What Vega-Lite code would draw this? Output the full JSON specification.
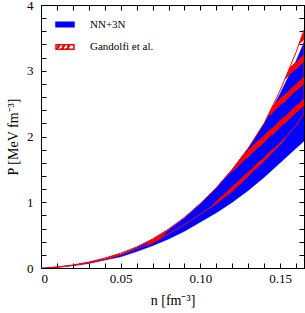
{
  "$schema": "https://vega.github.io/schema/vega-lite/v6.json",
  "width": 263,
  "height": 263,
  "autosize": {"type": "none"},
  "padding": {"left": 41, "top": 5, "right": 1, "bottom": 45},
  "config": {
    "view": {"stroke": "black", "strokeWidth": 1},
    "font": "Liberation Serif",
    "axis": {
      "grid": false,
      "domainColor": "black",
      "tickColor": "black",
      "labelColor": "black",
      "titleColor": "black",
      "labelFont": "Liberation Serif",
      "titleFont": "Liberation Serif",
      "labelFontSize": 13,
      "titleFontSize": 14,
      "titleFontWeight": "normal",
      "tickSize": -5,
      "tickWidth": 1
    },
    "legend": {
      "orient": "none",
      "title": null,
      "padding": 0,
      "symbolType": "M-1.8,-0.45H1.8V0.45H-1.8Z",
      "symbolSize": 100,
      "symbolStrokeWidth": 1.5,
      "labelFont": "Liberation Serif",
      "labelFontSize": 11,
      "labelColor": "black",
      "labelOffset": 19
    }
  },
  "datasets": {
    "nn3n": [
      {"n": 0.0, "lower": 0.0, "upper": 0.0},
      {"n": 0.01, "lower": 0.01, "upper": 0.012},
      {"n": 0.02, "lower": 0.035, "upper": 0.04},
      {"n": 0.03, "lower": 0.07, "upper": 0.085},
      {"n": 0.04, "lower": 0.12, "upper": 0.14},
      {"n": 0.05, "lower": 0.17, "upper": 0.21},
      {"n": 0.06, "lower": 0.25, "upper": 0.31},
      {"n": 0.07, "lower": 0.34, "upper": 0.43},
      {"n": 0.08, "lower": 0.44, "upper": 0.58},
      {"n": 0.09, "lower": 0.56, "upper": 0.76},
      {"n": 0.1, "lower": 0.7, "upper": 0.98},
      {"n": 0.11, "lower": 0.84, "upper": 1.22},
      {"n": 0.12, "lower": 1.0, "upper": 1.5},
      {"n": 0.13, "lower": 1.18, "upper": 1.82},
      {"n": 0.14, "lower": 1.38, "upper": 2.2},
      {"n": 0.15, "lower": 1.6, "upper": 2.65},
      {"n": 0.16, "lower": 1.82, "upper": 3.15},
      {"n": 0.165, "lower": 1.93, "upper": 3.43}
    ],
    "gandolfi": [
      {"n": 0.003, "lower": 0.0, "upper": 0.0},
      {"n": 0.01, "lower": 0.012, "upper": 0.015},
      {"n": 0.02, "lower": 0.04, "upper": 0.045},
      {"n": 0.03, "lower": 0.08, "upper": 0.09},
      {"n": 0.04, "lower": 0.13, "upper": 0.15},
      {"n": 0.05, "lower": 0.2, "upper": 0.225},
      {"n": 0.06, "lower": 0.29, "upper": 0.32},
      {"n": 0.07, "lower": 0.38, "upper": 0.44},
      {"n": 0.08, "lower": 0.52, "upper": 0.59},
      {"n": 0.09, "lower": 0.66, "upper": 0.77},
      {"n": 0.1, "lower": 0.82, "upper": 0.98},
      {"n": 0.11, "lower": 0.98, "upper": 1.22},
      {"n": 0.12, "lower": 1.17, "upper": 1.5},
      {"n": 0.13, "lower": 1.4, "upper": 1.82},
      {"n": 0.14, "lower": 1.63, "upper": 2.2},
      {"n": 0.15, "lower": 1.88, "upper": 2.7},
      {"n": 0.16, "lower": 2.17, "upper": 3.28},
      {"n": 0.165, "lower": 2.35, "upper": 3.62}
    ]
  },
  "layer": [
    {
      "data": {"name": "nn3n"},
      "mark": {"type": "area", "fill": "#0000ff", "strokeWidth": 0.5, "clip": true},
      "encoding": {
        "x": {
          "field": "n", "type": "quantitative",
          "scale": {"domain": [0, 0.165], "nice": false, "zero": false},
          "axis": {
            "orient": "bottom",
            "values": [0, 0.01, 0.02, 0.03, 0.04, 0.05, 0.06, 0.07, 0.08, 0.09, 0.1, 0.11, 0.12, 0.13, 0.14, 0.15, 0.16],
            "labelExpr": "round(datum.value*100) % 5 == 0 ? (datum.value == 0 ? '0' : format(datum.value, '.2f')) : ''",
            "labelPadding": 9,
            "title": "n [fm⁻³]",
            "titlePadding": 8
          }
        },
        "y": {
          "field": "upper", "type": "quantitative",
          "scale": {"domain": [0, 4], "nice": false},
          "axis": {
            "orient": "left",
            "values": [0, 0.2, 0.4, 0.6, 0.8, 1, 1.2, 1.4, 1.6, 1.8, 2, 2.2, 2.4, 2.6, 2.8, 3, 3.2, 3.4, 3.6, 3.8, 4],
            "labelExpr": "abs(datum.value - round(datum.value)) < 0.01 ? format(datum.value, 'd') : ''",
            "labelPadding": 13,
            "title": "P [MeV fm⁻³]",
            "titlePadding": 6
          }
        },
        "y2": {"field": "lower"},
        "stroke": {
          "datum": "NN+3N", "type": "nominal",
          "scale": {"domain": ["NN+3N"], "range": ["#0000ff"]},
          "legend": {"legendX": 18, "legendY": 13.5}
        }
      }
    },
    {
      "data": {"name": "gandolfi"},
      "mark": {
        "type": "area", "strokeWidth": 1, "clip": true, "stroke": "#ff0000",
        "fill": {"gradient": "linear", "x1": 0, "y1": 0, "x2": 1, "y2": 1, "stops": [
          {"offset": 0, "color": "#ff0000"}, {"offset": 0.0147, "color": "#ff0000"}, {"offset": 0.0147, "color": "rgba(255,0,0,0)"}, {"offset": 0.046, "color": "rgba(255,0,0,0)"},
          {"offset": 0.046, "color": "#ff0000"}, {"offset": 0.0607, "color": "#ff0000"}, {"offset": 0.0607, "color": "rgba(255,0,0,0)"}, {"offset": 0.092, "color": "rgba(255,0,0,0)"},
          {"offset": 0.092, "color": "#ff0000"}, {"offset": 0.1067, "color": "#ff0000"}, {"offset": 0.1067, "color": "rgba(255,0,0,0)"}, {"offset": 0.138, "color": "rgba(255,0,0,0)"},
          {"offset": 0.138, "color": "#ff0000"}, {"offset": 0.1527, "color": "#ff0000"}, {"offset": 0.1527, "color": "rgba(255,0,0,0)"}, {"offset": 0.184, "color": "rgba(255,0,0,0)"},
          {"offset": 0.184, "color": "#ff0000"}, {"offset": 0.1987, "color": "#ff0000"}, {"offset": 0.1987, "color": "rgba(255,0,0,0)"}, {"offset": 0.23, "color": "rgba(255,0,0,0)"},
          {"offset": 0.23, "color": "#ff0000"}, {"offset": 0.2447, "color": "#ff0000"}, {"offset": 0.2447, "color": "rgba(255,0,0,0)"}, {"offset": 0.276, "color": "rgba(255,0,0,0)"},
          {"offset": 0.276, "color": "#ff0000"}, {"offset": 0.2907, "color": "#ff0000"}, {"offset": 0.2907, "color": "rgba(255,0,0,0)"}, {"offset": 0.322, "color": "rgba(255,0,0,0)"},
          {"offset": 0.322, "color": "#ff0000"}, {"offset": 0.3367, "color": "#ff0000"}, {"offset": 0.3367, "color": "rgba(255,0,0,0)"}, {"offset": 0.368, "color": "rgba(255,0,0,0)"},
          {"offset": 0.368, "color": "#ff0000"}, {"offset": 0.3827, "color": "#ff0000"}, {"offset": 0.3827, "color": "rgba(255,0,0,0)"}, {"offset": 0.414, "color": "rgba(255,0,0,0)"},
          {"offset": 0.414, "color": "#ff0000"}, {"offset": 0.4287, "color": "#ff0000"}, {"offset": 0.4287, "color": "rgba(255,0,0,0)"}, {"offset": 0.46, "color": "rgba(255,0,0,0)"},
          {"offset": 0.46, "color": "#ff0000"}, {"offset": 0.4747, "color": "#ff0000"}, {"offset": 0.4747, "color": "rgba(255,0,0,0)"}, {"offset": 0.506, "color": "rgba(255,0,0,0)"},
          {"offset": 0.506, "color": "#ff0000"}, {"offset": 0.5207, "color": "#ff0000"}, {"offset": 0.5207, "color": "rgba(255,0,0,0)"}, {"offset": 0.552, "color": "rgba(255,0,0,0)"},
          {"offset": 0.552, "color": "#ff0000"}, {"offset": 0.5667, "color": "#ff0000"}, {"offset": 0.5667, "color": "rgba(255,0,0,0)"}, {"offset": 0.598, "color": "rgba(255,0,0,0)"},
          {"offset": 0.598, "color": "#ff0000"}, {"offset": 0.6127, "color": "#ff0000"}, {"offset": 0.6127, "color": "rgba(255,0,0,0)"}, {"offset": 0.644, "color": "rgba(255,0,0,0)"},
          {"offset": 0.644, "color": "#ff0000"}, {"offset": 0.6587, "color": "#ff0000"}, {"offset": 0.6587, "color": "rgba(255,0,0,0)"}, {"offset": 0.69, "color": "rgba(255,0,0,0)"},
          {"offset": 0.69, "color": "#ff0000"}, {"offset": 0.7047, "color": "#ff0000"}, {"offset": 0.7047, "color": "rgba(255,0,0,0)"}, {"offset": 0.736, "color": "rgba(255,0,0,0)"},
          {"offset": 0.736, "color": "#ff0000"}, {"offset": 0.7507, "color": "#ff0000"}, {"offset": 0.7507, "color": "rgba(255,0,0,0)"}, {"offset": 0.782, "color": "rgba(255,0,0,0)"},
          {"offset": 0.782, "color": "#ff0000"}, {"offset": 0.7967, "color": "#ff0000"}, {"offset": 0.7967, "color": "rgba(255,0,0,0)"}, {"offset": 0.828, "color": "rgba(255,0,0,0)"},
          {"offset": 0.828, "color": "#ff0000"}, {"offset": 0.8427, "color": "#ff0000"}, {"offset": 0.8427, "color": "rgba(255,0,0,0)"}, {"offset": 0.874, "color": "rgba(255,0,0,0)"},
          {"offset": 0.874, "color": "#ff0000"}, {"offset": 0.8887, "color": "#ff0000"}, {"offset": 0.8887, "color": "rgba(255,0,0,0)"}, {"offset": 0.92, "color": "rgba(255,0,0,0)"},
          {"offset": 0.92, "color": "#ff0000"}, {"offset": 0.9347, "color": "#ff0000"}, {"offset": 0.9347, "color": "rgba(255,0,0,0)"}, {"offset": 0.966, "color": "rgba(255,0,0,0)"},
          {"offset": 0.966, "color": "#ff0000"}, {"offset": 0.9807, "color": "#ff0000"}, {"offset": 0.9807, "color": "rgba(255,0,0,0)"}, {"offset": 1, "color": "rgba(255,0,0,0)"}
        ]}
      },
      "encoding": {
        "x": {
          "field": "n", "type": "quantitative",
          "axis": {
            "orient": "top",
            "values": [0, 0.01, 0.02, 0.03, 0.04, 0.05, 0.06, 0.07, 0.08, 0.09, 0.1, 0.11, 0.12, 0.13, 0.14, 0.15, 0.16],
            "labels": false,
            "title": null
          }
        },
        "y": {
          "field": "upper", "type": "quantitative",
          "axis": {
            "orient": "right",
            "values": [0, 0.2, 0.4, 0.6, 0.8, 1, 1.2, 1.4, 1.6, 1.8, 2, 2.2, 2.4, 2.6, 2.8, 3, 3.2, 3.4, 3.6, 3.8, 4],
            "labels": false,
            "title": null
          }
        },
        "y2": {"field": "lower"}
      }
    },
    {
      "data": {"values": []},
      "mark": {
        "type": "area", "strokeWidth": 1.5,
        "fill": {"gradient": "linear", "x1": 0, "y1": 0, "x2": 1, "y2": 0.15, "stops": [
          {"offset": 0, "color": "white"},
          {"offset": 0.12, "color": "white"},
          {"offset": 0.12, "color": "#ff0000"},
          {"offset": 0.25, "color": "#ff0000"},
          {"offset": 0.25, "color": "white"},
          {"offset": 0.4, "color": "white"},
          {"offset": 0.4, "color": "#ff0000"},
          {"offset": 0.53, "color": "#ff0000"},
          {"offset": 0.53, "color": "white"},
          {"offset": 0.68, "color": "white"},
          {"offset": 0.68, "color": "#ff0000"},
          {"offset": 0.81, "color": "#ff0000"},
          {"offset": 0.81, "color": "white"},
          {"offset": 1, "color": "white"}
        ]}
      },
      "encoding": {
        "x": {"field": "n", "type": "quantitative", "axis": null},
        "y": {"field": "upper", "type": "quantitative", "axis": null},
        "y2": {"field": "lower"},
        "stroke": {
          "datum": "Gandolfi et al.", "type": "nominal",
          "scale": {"domain": ["Gandolfi et al."], "range": ["#ff0000"]},
          "legend": {"legendX": 18, "legendY": 36}
        }
      }
    }
  ],
  "resolve": {"scale": {"stroke": "independent"}, "axis": {"x": "independent", "y": "independent"}}
}
